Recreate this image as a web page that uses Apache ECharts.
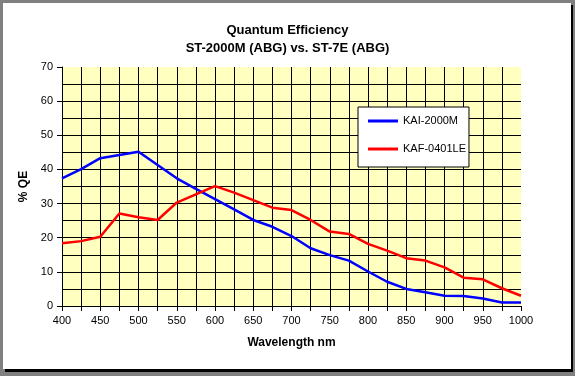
<!DOCTYPE html>
<html>
<head>
<meta charset="utf-8">
<script src="https://cdn.jsdelivr.net/npm/echarts@6/dist/echarts.min.js"></script>
<style>
  html, body { margin: 0; padding: 0; }
  .frame { position: relative; width: 575px; height: 376px; background: #808080; overflow: hidden; }
  .shadow { position: absolute; left: 5px; top: 5px; width: 568px; height: 367px; background: #000; }
  .paper { position: absolute; left: 3px; top: 3px; width: 568px; height: 366px; background: #fff; }
  #chart { position: absolute; left: 0; top: 0; width: 575px; height: 376px; }
</style>
</head>
<body>
<div class="frame">
  <div class="shadow"></div>
  <div class="paper"></div>
  <div id="chart"></div>
</div>
<script>
// wavelength (nm), sampled every 25 nm
const wavelengths = [400, 425, 450, 475, 500, 525, 550, 575, 600, 625, 650, 675, 700,
  725, 750, 775, 800, 825, 850, 875, 900, 925, 950, 975, 1000]
// % QE
const kai2000m = [37.4, 40.1, 43.3, 44.2, 45.2, 41.3, 37.4, 34.3, 31.3, 28.3, 25.2, 23.2, 20.5,
  16.9, 14.9, 13.3, 10.1, 7.1, 5.0, 4.0, 3.0, 2.9, 2.2, 1.0, 1.0]
const kaf0401le = [18.4, 19.0, 20.3, 27.1, 26.0, 25.2, 30.3, 32.7, 35.1, 33.2, 31.0, 28.8, 28.1,
  25.2, 21.8, 21.1, 18.2, 16.2, 14.0, 13.3, 11.3, 8.3, 7.8, 5.2, 3.0]
const seriesNames = ['KAI-2000M', 'KAF-0401LE']

const font = 'Liberation Sans, Arial, sans-serif'
const chartInstance = echarts.init(document.getElementById('chart'))

const pairs = (ys) => wavelengths.map((x, i) => [x, ys[i]])

const option = {
  animation: false,
  backgroundColor: 'transparent',
  title: {
    text: 'Quantum Efficiency\nST-2000M (ABG) vs. ST-7E (ABG)',
    left: 'center',
    top: 16,
    textStyle: { fontFamily: font, fontSize: 13, fontWeight: 'bold', color: '#000', lineHeight: 18 },
  },
  legend: {
    orient: 'vertical',
    left: 358,
    top: 107,
    padding: [7, 3, 11, 10],
    itemGap: 14,
    itemWidth: 30,
    itemHeight: 3,
    icon: 'rect',
    backgroundColor: '#fff',
    borderColor: '#000',
    borderWidth: 1,
    borderRadius: 0,
    textStyle: { fontFamily: font, fontSize: 11, color: '#000', lineHeight: 14 },
    data: seriesNames,
  },
  grid: {
    left: 62,
    right: 54,
    top: 67,
    bottom: 70,
    show: true,
    backgroundColor: '#ffffc0',
    borderWidth: 0,
  },
  xAxis: {
    type: 'value',
    min: 400,
    max: 1000,
    interval: 50,
    name: 'Wavelength nm',
    nameLocation: 'middle',
    nameGap: 31,
    nameTextStyle: { fontFamily: font, fontSize: 12, fontWeight: 'bold', color: '#000' },
    axisLine: { show: true, lineStyle: { color: '#000', width: 1 } },
    axisTick: { show: true, length: 5, lineStyle: { color: '#000' } },
    minorTick: { show: true, splitNumber: 2, length: 5, lineStyle: { color: '#000' } },
    axisLabel: { fontFamily: font, fontSize: 11, color: '#000', margin: 9, formatter: (v) => String(v) },
    splitLine: {
      show: true,
      lineStyle: {
        color: ['#000', '#000', '#000', '#000', '#000', '#000', '#000', '#000', '#000', '#000', '#000', '#000', 'transparent'],
        width: 1,
      },
    },
    minorSplitLine: { show: true, lineStyle: { color: '#000', width: 1 } },
  },
  yAxis: {
    type: 'value',
    min: 0,
    max: 70,
    interval: 10,
    name: '% QE',
    nameLocation: 'middle',
    nameGap: 30,
    nameTextStyle: { fontFamily: font, fontSize: 12, fontWeight: 'bold', color: '#000' },
    axisLine: { show: true, lineStyle: { color: '#000', width: 1 } },
    axisTick: { show: true, length: 5, lineStyle: { color: '#000' } },
    axisLabel: { fontFamily: font, fontSize: 11, color: '#000', margin: 9 },
    splitLine: {
      show: true,
      lineStyle: {
        color: ['#000', '#000', '#000', '#000', '#000', '#000', '#000', 'transparent'],
        width: 1,
      },
    },
    minorTick: { show: false, splitNumber: 2 },
    minorSplitLine: { show: true, lineStyle: { color: '#000', width: 1 } },
  },
  series: [
    {
      name: seriesNames[0],
      type: 'line',
      data: pairs(kai2000m),
      symbol: 'none',
      color: '#0000ff',
      lineStyle: { color: '#0000ff', width: 2.5 },
    },
    {
      name: seriesNames[1],
      type: 'line',
      data: pairs(kaf0401le),
      symbol: 'none',
      color: '#ff0000',
      lineStyle: { color: '#ff0000', width: 2.5 },
    },
  ],
}
chartInstance.setOption(option)
</script>
</body>
</html>
